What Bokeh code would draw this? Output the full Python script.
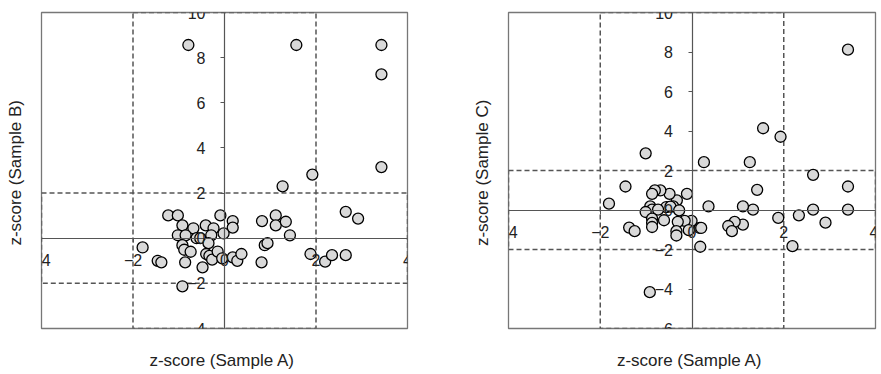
from bokeh.plotting import figure
from bokeh.models import Range1d, FixedTicker, LinearAxis
from bokeh.layouts import row
from bokeh.embed import file_html
from bokeh.resources import INLINE

# ---- data ----
x_ticks = [-4, -2, 0, 2, 4]
yB_ticks = [-4, -2, 0, 2, 4, 6, 8, 10]
yC_ticks = [-6, -4, -2, 0, 2, 4, 6, 8, 10]
x_limits = [-4, 4]
yB_limits = [-4, 10]
yC_limits = [-6, 10]
lower_cut = -2
upper_cut = 2

x_title = "z-score (Sample  A)"
yB_title = "z-score (Sample  B)"
yC_title = "z-score (Sample  C)"

# Sample A vs Sample B
ab_x = [-0.79, 1.57, 3.43, 3.43, 3.43, 1.92, 1.27, 2.65, 2.92, -1.23,
        -1.02, -0.09, 0.18, 0.18, 0.82, 1.12, 1.12, 1.34, 1.43, -0.92,
        -0.68, -0.41, -0.24, -1.02, -0.85, -0.61, -0.53, -0.29, -0.02, -0.92,
        -0.88, -0.74, -0.35, -0.40, -0.33, -0.27, -0.15, -0.05, 0.18, 0.28,
        0.37, -0.86, -0.48, -0.92, -1.79, -1.46, -1.38, 0.81, 0.88, 0.94,
        1.88, 2.20, 2.35, 2.65]
ab_y = [8.56, 8.56, 8.56, 7.26, 3.15, 2.82, 2.30, 1.17, 0.87, 1.01,
        1.01, 1.01, 0.76, 0.47, 0.76, 1.01, 0.57, 0.73, 0.13, 0.57,
        0.44, 0.57, 0.44, 0.13, 0.13, 0.00, 0.00, 0.13, 0.21, -0.31,
        -0.51, -0.60, -0.22, -0.70, -0.78, -0.95, -0.59, -0.89, -0.85, -1.00,
        -0.70, -1.07, -1.29, -2.13, -0.41, -1.00, -1.07, -1.07, -0.31, -0.22,
        -0.70, -1.04, -0.75, -0.75]

# Sample A vs Sample C
ac_x = [3.40, 1.55, 1.93, 1.26, 0.26, -1.01, 2.64, 3.40, 3.40, 2.64,
        1.42, 1.33, 1.11, 0.36, 2.33, 2.91, 1.88, 2.19, 1.11, 0.93,
        0.79, 0.87, 0.17, 0.20, 0.18, -0.11, -0.01, -0.16, -0.07, -0.33,
        -0.49, -0.69, -0.81, -0.87, -0.41, -0.56, -0.47, -0.28, -0.91, -0.87,
        -1.01, -0.74, -0.87, -0.87, -0.87, -0.61, -0.31, -0.34, -0.34, -1.45,
        -1.81, -1.37, -1.25, -0.92]
ac_y = [8.12, 4.14, 3.71, 2.42, 2.42, 2.87, 1.78, 1.19, 0.02, 0.02,
        1.02, 0.02, 0.18, 0.18, -0.27, -0.64, -0.40, -1.83, -0.74, -0.60,
        -0.81, -1.07, -0.91, -0.91, -1.86, 0.82, -0.55, -0.55, -1.02, 0.49,
        0.82, 0.99, 0.99, 0.82, 0.18, 0.15, 0.17, -0.02, 0.18, 0.02,
        -0.10, 0.02, -0.44, -0.65, -0.86, -0.52, -0.60, -1.07, -1.29, 1.19,
        0.32, -0.89, -1.07, -4.16]

FONT = "Liberation Sans"
DASH_COLOR = "#555555"


def title_axis(text, standoff):
    ax = LinearAxis(axis_label=text, ticker=FixedTicker(ticks=[]))
    ax.axis_line_color = None
    ax.major_tick_line_color = None
    ax.minor_tick_line_color = None
    ax.major_tick_out = 0
    ax.major_tick_in = 0
    ax.major_label_standoff = 0
    ax.major_label_text_font_size = "0px"
    ax.axis_label_standoff = standoff
    ax.axis_label_text_font = FONT
    ax.axis_label_text_font_size = "17px"
    ax.axis_label_text_font_style = "normal"
    ax.axis_label_text_color = "#222222"
    return ax


def make_panel(xs, ys, y_limits, y_ticks, y_title, width, b_left, b_right):
    p = figure(width=width, height=372, output_backend="svg", toolbar_location=None,
               x_range=Range1d(*x_limits), y_range=Range1d(*y_limits),
               min_border_left=b_left, min_border_right=b_right,
               min_border_top=12, min_border_bottom=42)
    p.background_fill_color = "white"
    p.border_fill_color = "white"
    p.outline_line_color = "#777777"
    p.outline_line_width = 1.3
    p.grid.visible = False

    # dashed boxes: |x|<=2 band and |y|<=2 band
    p.quad(left=[lower_cut], right=[upper_cut], bottom=[y_limits[0]], top=[y_limits[1]],
           fill_color=None, line_color=DASH_COLOR, line_width=1.5, line_dash="5 3")
    p.quad(left=[x_limits[0]], right=[x_limits[1]], bottom=[lower_cut], top=[upper_cut],
           fill_color=None, line_color=DASH_COLOR, line_width=1.5, line_dash="5 3")

    p.scatter(xs, ys, size=11, fill_color="#d9d9d9", line_color="black", line_width=1.3)

    for ax, ticks in ((p.xaxis[0], x_ticks), (p.yaxis[0], y_ticks)):
        ax.fixed_location = 0
        ax.ticker = FixedTicker(ticks=ticks)
        ax.minor_tick_line_color = None
        ax.axis_line_color = "#555555"
        ax.axis_line_width = 1.2
        ax.major_tick_line_color = "#555555"
        ax.major_tick_in = 0
        ax.major_tick_out = 4
        ax.major_label_text_font = FONT
        ax.major_label_text_font_size = "16px"
        ax.major_label_text_color = "#222222"
    p.xaxis[0].major_label_standoff = 12
    p.yaxis[0].major_label_standoff = 15

    p.add_layout(title_axis(x_title, 22), "below")
    p.add_layout(title_axis(y_title, 17), "left")
    return p


p1 = make_panel(ab_x, ab_y, yB_limits, yB_ticks, yB_title, 440, 41, 33)
p2 = make_panel(ac_x, ac_y, yC_limits, yC_ticks, yC_title, 438, 68, 3)

layout = row(p1, p2, spacing=0)
open("out.html", "w").write(file_html(layout, INLINE))
